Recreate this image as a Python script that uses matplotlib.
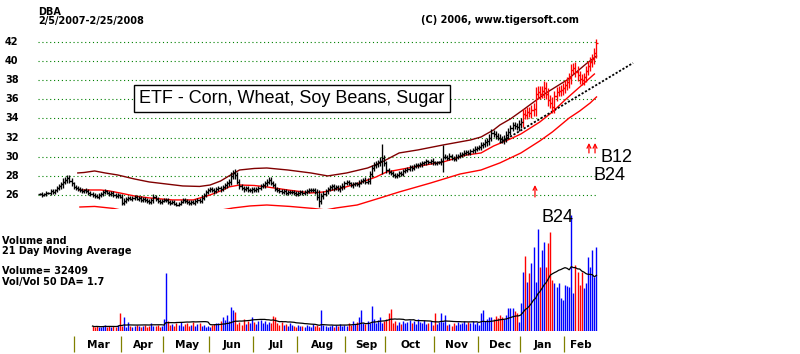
import matplotlib
matplotlib.use("Agg")
import matplotlib.pyplot as plt
import numpy as np
import pandas as pd

plt.rcParams['font.family'] = ['DejaVu Sans']

# daily closes, trading days 2/5/2007 .. 2/25/2008 (index 0..265)
closes = [
    26.1, 26.0, 26.1, 26.2, 26.2, 26.4, 26.3, 26.5, 26.7, 26.9,
    27.1, 27.4, 27.6, 27.8, 27.5, 27.2, 26.8, 26.7, 26.6, 26.5,
    26.4, 26.5, 26.4, 26.2, 26.1, 26.0, 25.9, 25.8, 26.0, 26.1,
    26.3, 26.4, 26.2, 26.1, 26.2, 26.0, 25.9, 26.0, 25.8, 25.2,
    25.4, 25.6, 25.7, 25.6, 25.7, 25.8, 25.6, 25.7, 25.5, 25.6,
    25.5, 25.4, 25.3, 25.5, 25.8, 25.6, 25.4, 25.3, 25.4, 25.5,
    25.5, 25.3, 25.2, 25.3, 25.1, 25.0, 25.1, 25.3, 25.5, 25.4,
    25.3, 25.2, 25.3, 25.2, 25.4, 25.5, 25.4, 25.7, 26.0, 26.3,
    26.5, 26.6, 26.5, 26.4, 26.6, 26.7, 26.6, 26.8, 27.0, 27.2,
    27.4, 28.0, 28.3, 28.1, 27.4, 26.9, 26.7, 26.6, 26.7, 26.5,
    26.5, 26.6, 26.5, 26.6, 26.7, 26.9, 27.0, 27.2, 27.4, 27.6,
    27.3, 27.0, 26.6, 26.5, 26.4, 26.3, 26.4, 26.2, 26.3, 26.3,
    26.3, 26.2, 26.1, 26.2, 26.3, 26.2, 26.3, 26.4, 26.5, 26.5,
    26.5, 26.3, 25.8, 25.4, 25.9, 26.1, 26.4, 26.6, 26.8, 26.9,
    26.7, 26.8, 26.6, 26.8, 26.9, 27.2, 27.4, 27.2, 27.0, 27.1,
    27.2, 27.1, 27.3, 27.5, 27.6, 27.4, 27.5, 28.2, 28.8, 29.1,
    29.2, 29.4, 29.6, 29.9, 29.3, 28.6, 28.4, 28.3, 28.1, 28.0,
    28.1, 28.3, 28.2, 28.5, 28.6, 28.7, 28.9, 28.8, 29.0, 29.1,
    29.1, 29.2, 29.3, 29.4, 29.5, 29.4, 29.6, 29.4, 29.3, 29.4,
    29.4, 29.6, 30.0, 30.0, 29.9, 30.1, 29.9, 29.8, 30.0, 30.1,
    30.2, 30.3, 30.4, 30.5, 30.4, 30.6, 30.7, 30.8, 30.9, 31.0,
    31.2, 31.3, 31.5, 31.6, 32.0, 32.5, 32.4, 32.2, 32.0, 31.9,
    31.7, 31.9, 32.3, 32.6, 33.0, 33.3, 33.2, 33.1, 33.4, 33.6,
    34.5, 34.4, 34.7, 34.6, 34.9, 35.0, 36.6, 36.8, 36.6, 36.9,
    37.2, 36.6, 35.9, 35.6, 35.2, 36.3, 36.8, 36.9, 37.0, 37.2,
    37.5, 37.8, 38.2, 39.1, 39.3, 38.9, 38.5, 38.1, 38.0, 38.3,
    39.0, 39.5, 39.9, 40.2, 40.8, 41.9,
]

# how far each bar reaches beyond its open/close
ext = [
    .15, .2, .15, .2, .15, .2, .2, .15, .2, .2,
    .3, .35, .3, .3, .3, .25, .2, .2, .2, .2,
    .2, .15, .2, .2, .25, .2, .2, .15, .2, .2,
    .2, .2, .15, .2, .2, .25, .2, .2, .15, .3,
    .25, .2, .2, .15, .2, .2, .15, .2, .2, .2,
    .2, .2, .2, .2, .35, .2, .2, .2, .2, .15,
    .2, .2, .2, .15, .2, .2, .2, .2, .15, .2,
    .2, .2, .2, .15, .2, .2, .2, .25, .2, .2,
    .25, .2, .2, .25, .2, .2, .25, .2, .2, .25,
    .3, .35, .3, .4, .3, .25, .2, .25, .2, .2,
    .2, .25, .2, .2, .25, .2, .2, .25, .3, .3,
    .25, .2, .2, .2, .2, .2, .2, .2, .2, .2,
    .2, .2, .2, .2, .2, .2, .2, .2, .2, .2,
    .2, .25, .3, .7, .35, .3, .25, .25, .2, .25,
    .25, .2, .2, .25, .3, .25, .2, .2, .2, .25,
    .2, .2, .25, .2, .2, .25, .3, .35, .3, .3,
    .3, .3, .35, 1.4, .3, .3, .25, .2, .25, .2,
    .2, .25, .2, .25, .2, .25, .2, .25, .2, .2,
    .25, .2, .25, .2, .25, .2, .2, .25, .2, .2,
    .2, .25, 1.2, .25, .2, .25, .2, .2, .25, .2,
    .25, .2, .25, .2, .25, .2, .25, .3, .25, .25,
    .3, .25, .3, .35, .4, .35, .3, .3, .3, .35,
    .3, .35, .35, .4, .35, .35, .3, .35, .4, .4,
    .5, .45, .5, .45, .55, .6, .7, .55, .6, .5,
    .75, .6, .6, .55, .6, .6, .5, .5, .55, .5,
    .55, .5, .6, .55, .5, .6, .55, .5, .5, .5,
    .5, .5, .55, .5, .55, .45,
]
first_red = 230  # bars drawn red from the Jan buy signal on

# bands: (trading day, price)
upper_day = [18, 21, 26, 31, 37, 45, 52, 60, 68, 76, 81, 86, 90, 95, 102, 108, 118, 129,
             137, 146, 156, 162, 171, 180, 192, 205, 210, 216, 219, 224, 230, 241, 251, 260, 265]
upper_val = [28.30, 28.35, 28.51, 28.30, 28.09, 27.67, 27.36, 27.15, 26.94, 26.89, 27.04,
             27.46, 27.99, 28.61, 28.77, 28.82, 28.61, 28.30, 27.99, 28.30, 28.82, 29.35,
             30.39, 30.71, 31.23, 31.75, 32.06, 32.80, 33.32, 33.95, 34.89, 36.67, 38.03,
             39.70, 40.53]
lower_day = [19, 29, 33, 38, 45, 52, 63, 73, 81, 86, 90, 95, 102, 108, 118, 129, 135, 144,
             152, 160, 165, 178, 192, 203, 210, 216, 224, 229, 238, 244, 250, 257, 264]
lower_val = [26.52, 26.52, 26.42, 26.21, 25.89, 25.69, 25.48, 25.48, 26.00, 26.42, 26.84,
             27.04, 26.99, 26.84, 26.52, 26.21, 26.31, 26.73, 27.25, 27.88, 28.40, 28.93,
             29.45, 30.18, 30.39, 31.12, 31.86, 32.38, 33.63, 34.68, 35.93, 37.29, 38.65]
outer_day = [19, 26, 35, 43, 52, 67, 81, 92, 100, 108, 119, 130, 136, 141, 151, 162, 171,
             186, 200, 210, 219, 229, 238, 244, 252, 257, 262, 265]
outer_val = [24.74, 24.80, 24.59, 24.22, 23.91, 23.80, 24.22, 24.64, 24.85, 24.95, 24.80,
             24.59, 24.43, 24.64, 24.95, 25.69, 26.31, 27.25, 28.19, 28.61, 29.35, 30.39,
             31.65, 32.59, 34.05, 34.78, 35.62, 36.25]
trend_day = [219, 282.4]
trend_val = [31.44, 39.80]

# buy signal arrows: (day, price from, price to)
signals = [(235.7, 25.79, 27.04), (261.4, 30.39, 31.44), (264.3, 30.39, 31.44)]

# volume, days 25..265
vol_start = 25
volume = [
    1900, 1500, 1900, 1500, 1500, 1900, 2300, 1500, 1900, 1500,
    1900, 1500, 2300, 6900, 1900, 5400, 1500, 3500, 1900, 1500,
    1900, 2300, 1900, 1500, 1900, 2300, 1500, 1900, 3100, 1900,
    1900, 2300, 1500, 1900, 4600, 22300, 3900, 2300, 2700, 1900,
    3100, 2300, 3500, 1900, 2700, 3100, 1900, 2300, 3500, 1900,
    2700, 3100, 1900, 2300, 1500, 1900, 1500, 2300, 2700, 3100,
    3100, 3900, 5400, 4200, 6200, 3900, 9200, 8100, 7300, 2700,
    3500, 2300, 4600, 2700, 3900, 3100, 5400, 3500, 2700, 3900,
    4200, 3100, 3900, 2700, 3500, 3100, 5800, 5400, 3100, 2300,
    3500, 2300, 2700, 1900, 3100, 2300, 1900, 1500, 2300, 1900,
    1900, 1500, 2300, 1900, 1500, 2700, 1900, 2300, 1500, 8100,
    2300, 1900, 1500, 1900, 2300, 1500, 2300, 1900, 2700, 1900,
    2300, 1900, 3100, 2300, 3900, 2700, 3500, 5400, 8100, 3100,
    2700, 3900, 3100, 9600, 4600, 3100, 4200, 5400, 3100, 3900,
    4600, 6900, 8500, 3100, 3900, 2300, 3500, 2700, 3900, 3100,
    3500, 4200, 3100, 3900, 2700, 4600, 3500, 3100, 4200, 2700,
    3100, 3900, 2300, 6900, 2700, 3500, 6900, 3500, 6200, 2300,
    2700, 1900, 3100, 2300, 3500, 2700, 3100, 3900, 2700, 3500,
    3100, 3900, 2700, 3500, 2300, 6900, 8100, 3900, 4600, 5400,
    5400, 4600, 5800, 5000, 6200, 5400, 4600, 6200, 8900, 8900,
    8900, 7700, 6900, 3500, 10800,
    22700, 28900, 18900, 22300, 26200, 32400, 18900, 39300, 24600, 31200,
    34300, 24600, 33900, 38100, 19600, 18500, 16900, 18500, 12700, 11900,
    17700, 17300, 16900, 44700, 14600, 25400, 22700, 17700, 22700, 16600,
    18500, 28500, 24600, 31200, 20800, 32409,
]

months = ['Mar', 'Apr', 'May', 'Jun', 'Jul', 'Aug', 'Sep', 'Oct', 'Nov', 'Dec', 'Jan', 'Feb']
month_start = [17, 39, 59, 81, 102, 123, 146, 165, 188, 209, 229, 250]
grid_levels = [26, 28, 30, 32, 34, 36, 38, 40, 42]

closes = np.array(closes)
ext = np.array(ext)
days = np.arange(len(closes))
opens = np.r_[closes[0], closes[:-1]]
highs = np.maximum(opens, closes) + ext
lows = np.minimum(opens, closes) - ext

W, H = 800, 354
fig = plt.figure(figsize=(W / 100, H / 100), dpi=100)
x0 = -40 / 2.1
xlim = (x0, x0 + W / 2.1)

# price panel
ax = fig.add_axes([0, (H - 209.3) / H, 1, (209.3 - 30) / H])
ax.set_xlim(xlim)
ax.set_ylim(24.5, 43.25)
ax.axis('off')

ax.hlines(grid_levels, -1, 265.5, colors='#008000', linestyles=(0, (1, 2.5)), lw=0.8)
for lv in grid_levels:
    ax.text(5 / W, lv, str(lv), transform=ax.get_yaxis_transform(), fontsize=7,
            weight='bold', ha='left', va='center')

ax.plot(upper_day, upper_val, color='#800000', lw=1.0)
ax.plot(lower_day, lower_val, color='#ff0000', lw=1.0)
ax.plot(outer_day, outer_val, color='#ff0000', lw=1.0)
ax.plot(trend_day, trend_val, color='black', lw=1.3, ls=(0, (1.2, 1)))

col = np.where(days >= first_red, '#ff0000', 'black')
ax.vlines(days, lows, highs, colors=col, lw=0.95)
ax.hlines(opens, days - 0.9, days, colors=col, lw=0.95)
ax.hlines(closes, days, days + 0.9, colors=col, lw=0.95)

for d, a, b in signals:
    ax.annotate('', xy=(d, b), xytext=(d, a),
                arrowprops=dict(arrowstyle='->', color='red', lw=0.9,
                                shrinkA=0, shrinkB=0, mutation_scale=7))

ax.text(120, 36.09, 'ETF - Corn, Wheat, Soy Beans, Sugar', ha='center', va='center',
        fontsize=13, family='Liberation Sans',
        bbox=dict(boxstyle='square,pad=0.3', fc='white', ec='black', lw=1))
ax.text(266.7, 29.9, 'B12', fontsize=13, family='Liberation Sans', va='center')
ax.text(263.8, 28.05, 'B24', fontsize=13, family='Liberation Sans', va='center')

fig.text(38 / W, 1 - 12 / H, 'DBA', fontsize=7, weight='bold', va='center')
fig.text(38 / W, 1 - 21 / H, '2/5/2007-2/25/2008', fontsize=7, weight='bold', va='center')
fig.text(421 / W, 1 - 20 / H, '(C) 2006, www.tigersoft.com', fontsize=7, weight='bold',
         va='center')

# volume panel
av = fig.add_axes([0, (H - 331) / H, 1, (331 - 212) / H])
av.set_xlim(xlim)
av.set_ylim(0, 119 * 385)
av.axis('off')

vdays = np.arange(vol_start, vol_start + len(volume))
vol = np.array(volume)
chg = closes[vdays] - closes[vdays - 1]
vcol = np.where(chg >= 0, '#0000ff', '#ff0000')
av.vlines(vdays, 0, vol, colors=vcol, lw=1.0)
ma = pd.Series(vol).rolling(21, min_periods=1).mean()
av.plot(vdays, ma, color='black', lw=0.9)
av.text(238.6, 43700, 'B24', fontsize=13, family='Liberation Sans', va='center')

for y, s in [(241, 'Volume and'), (251, '21 Day Moving Average'),
             (271, 'Volume= %d' % volume[-1]), (282, 'Vol/Vol 50 DA= 1.7')]:
    fig.text(2 / W, 1 - y / H, s, fontsize=7, weight='bold', va='center')

# month axis
tr = av.get_xaxis_transform()
av.vlines(np.array(month_start) - 0.6, -0.042, -0.176, transform=tr, colors='#808000',
          lw=0.9, clip_on=False)
ends = month_start[1:] + [len(closes) - 1]
for m, a, b in zip(months, month_start, ends):
    av.text((a + b) / 2, -0.115, m, transform=tr, fontsize=7.6, weight='bold',
            ha='center', va='center', clip_on=False)

fig.savefig('out.png', dpi=100)
